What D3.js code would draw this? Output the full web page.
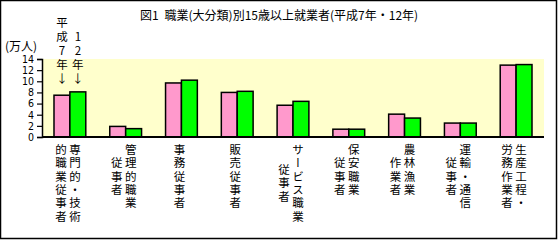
<!DOCTYPE html>
<html>
<head>
<meta charset="utf-8">
<script src="https://cdn.jsdelivr.net/npm/d3@7"></script>
<style>
  body { margin: 0; background: #fff; }
  svg { display: block; }
  text { font-family: "Noto Sans CJK JP", sans-serif; fill: #000; }
  .tick-label { font-family: "Liberation Sans Narrow", "DejaVu Sans Condensed", "Liberation Sans", sans-serif; }
  .vtext { writing-mode: vertical-rl; text-orientation: upright; }
</style>
</head>
<body>
<div id="chart"></div>
<script>
// 職業(大分類) - 右の列から読む縦書き
const categories = [
  ["専門的・技術", "的職業従事者"],
  ["管理的職業", "従事者"],
  ["事務従事者"],
  ["販売従事者"],
  ["サービス職業", "従事者"],
  ["保安職業", "従事者"],
  ["農林漁業", "作業者"],
  ["運輸・通信", "従事者"],
  ["生産工程・", "労務作業者"]
];
const seriesNames = ["平成7年", "12年"];
const h7 = [7.5, 1.9, 9.7, 8.0, 5.7, 1.4, 4.1, 2.5, 12.9];
const h12 = [8.1, 1.5, 10.2, 8.2, 6.4, 1.4, 3.4, 2.5, 13.0];
const yTicks = [0, 2, 4, 6, 8, 10, 12, 14];
const colors = ["#ff99cc", "#00ff00"];

const W = 560, H = 240;
const svg = d3.select("#chart").append("svg")
  .attr("width", W)
  .attr("height", H);

// 外枠
svg.append("rect")
  .attr("x", 0.5).attr("y", 0.5)
  .attr("width", 556).attr("height", 238)
  .attr("fill", "#fff")
  .attr("stroke", "#000")
  .attr("stroke-width", 1.5);

const plot = {left: 42, right: 544, top: 59, bottom: 137};

const x = d3.scaleBand()
  .domain(d3.range(categories.length))
  .range([plot.left, plot.right])
  .paddingInner(0.43)
  .paddingOuter(0.215);

const xs = d3.scaleBand()
  .domain([0, 1])
  .range([0, x.bandwidth()]);

const y = d3.scaleLinear()
  .domain([0, 14])
  .range([plot.bottom, plot.top]);

// 背景
svg.append("rect")
  .attr("x", plot.left).attr("y", plot.top)
  .attr("width", plot.right - plot.left)
  .attr("height", plot.bottom - plot.top)
  .attr("fill", "#ffffcc");

// タイトル
svg.append("text")
  .attr("x", 279).attr("y", 20)
  .attr("text-anchor", "middle")
  .style("font-size", "12px")
  .text("図1\u2002職業(大分類)別15歳以上就業者(平成7年・12年)");

svg.append("text")
  .attr("x", 21).attr("y", 51)
  .attr("text-anchor", "middle")
  .style("font-size", "12px")
  .text("(万人)");

// 棒
const series = [h7, h12];
series.forEach(function(vals, s) {
  svg.append("g")
    .selectAll("rect")
    .data(vals)
    .enter().append("rect")
    .attr("x", (d, i) => x(i) + xs(s))
    .attr("y", d => y(d))
    .attr("width", xs.bandwidth())
    .attr("height", d => y(0) - y(d))
    .attr("fill", colors[s])
    .attr("stroke", "#000")
    .attr("stroke-width", 1.5);
});

// y軸
const yAxis = svg.append("g")
  .attr("transform", `translate(${plot.left},0)`)
  .call(d3.axisLeft(y).tickValues(yTicks).tickSize(5).tickPadding(3));
yAxis.select(".domain").attr("stroke-width", 1.5);
yAxis.selectAll(".tick line").attr("stroke-width", 1.2);
yAxis.selectAll(".tick text")
  .attr("class", "tick-label")
  .attr("fill", "#000")
  .style("font-size", "10.5px");

// x軸の線
svg.append("line")
  .attr("x1", plot.left).attr("x2", plot.right)
  .attr("y1", plot.bottom).attr("y2", plot.bottom)
  .attr("stroke", "#000")
  .attr("stroke-width", 2);

// 縦書きの1列 (topY = 1文字目の上端)
const fs = 11.5;
function vColumn(str, cx, topY, step) {
  svg.append("text")
    .attr("class", "vtext")
    .attr("x", cx)
    .attr("y", topY)
    .style("font-size", fs + "px")
    .style("letter-spacing", (step - fs) + "px")
    .text(str);
}

// 項目名
const rowStep = 13.3;
const labelTop = 144;
categories.forEach(function(lines, i) {
  const cx = x(i) + x.bandwidth() / 2 - 2;
  if (lines.length === 1) {
    vColumn(lines[0], cx, labelTop, rowStep);
  } else {
    const n0 = Array.from(lines[0]).length, n1 = Array.from(lines[1]).length;
    const off = n0 > n1 ? Math.max(1, (n0 - n1) / 2) : 0;
    vColumn(lines[0], cx + 7, labelTop, rowStep);
    vColumn(lines[1], cx - 7, labelTop + off * rowStep, rowStep);
  }
});

// 凡例(棒の上の縦書き)
const annStep = 14;
seriesNames.forEach(function(name, s) {
  const str = name + "↓";
  const n = Array.from(str).length;
  const cx = x(0) + xs(s) + xs.bandwidth() / 2;
  vColumn(str, cx, 79 - (n - 1) * annStep - fs / 2, annStep);
});
</script>
</body>
</html>
